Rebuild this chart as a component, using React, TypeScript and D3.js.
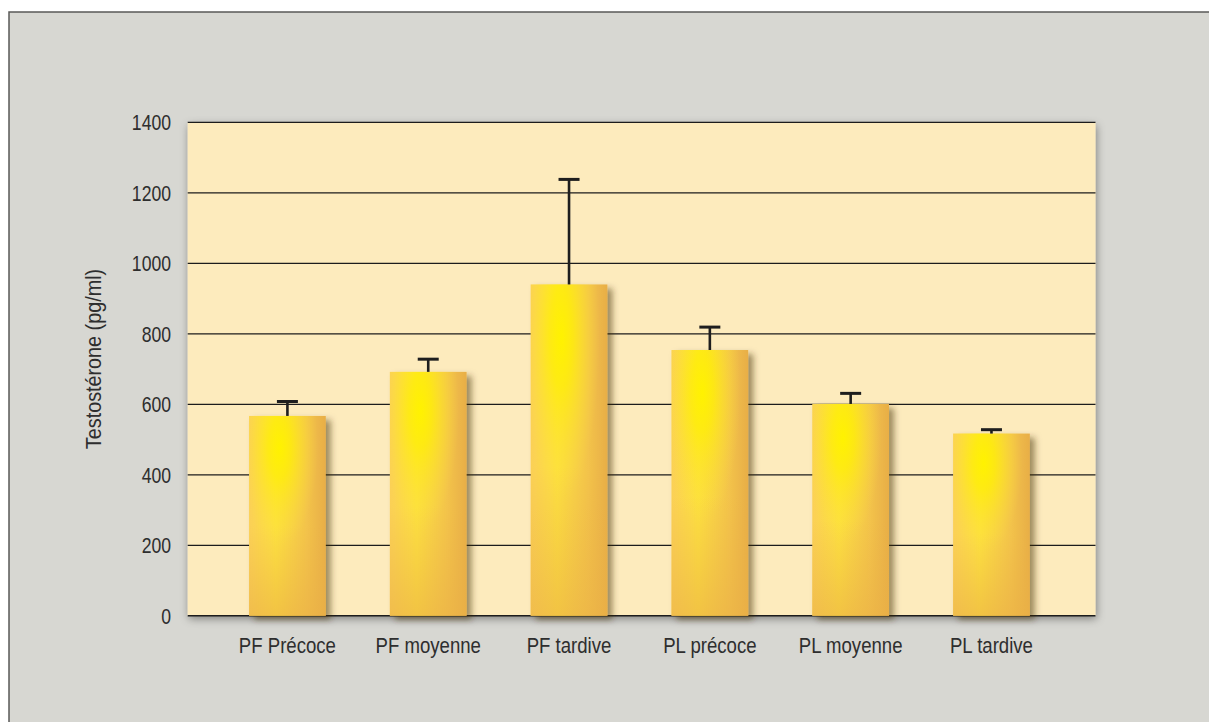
import React from "react";
import * as d3 from "d3";

const categories = ["PF Précoce", "PF moyenne", "PF tardive", "PL précoce", "PL moyenne", "PL tardive"];
const means = [567, 692, 940, 754, 601, 517];
const upper = [608, 728, 1238, 819, 631, 528];
const yTicks = [0, 200, 400, 600, 800, 1000, 1200, 1400];
const yLabel = "Testostérone (pg/ml)";

const W = 1209;
const H = 722;
const plot = { left: 187.7, right: 1095.5, top: 122.3, bottom: 615.8 };
const FONT = "'Liberation Sans', Arial, sans-serif";

export default function App() {
  const x = d3
    .scaleBand<string>()
    .domain(categories)
    .range([plot.left, plot.right])
    .paddingInner(0.455)
    .paddingOuter(0.451)
    .align(0.483);
  const y = d3.scaleLinear().domain([0, 1400]).range([plot.bottom, plot.top]);
  const bw = x.bandwidth();

  return (
    <svg
      width={W}
      height={H}
      style={{ position: "absolute", left: 0, top: 0, display: "block" }}
      fontFamily={FONT}
    >
      <defs>
        <filter id="plotShadow" x="-10%" y="-10%" width="120%" height="120%">
          <feDropShadow dx="1" dy="3" stdDeviation="4.5" floodColor="#000" floodOpacity="0.4" />
        </filter>
        <filter id="barShadow" x="-30%" y="-20%" width="160%" height="140%">
          <feDropShadow dx="5" dy="4" stdDeviation="3" floodColor="#3a2a00" floodOpacity="0.5" />
        </filter>
        <linearGradient id="barBase" x1="0" y1="0" x2="1" y2="0">
          <stop offset="0" stopColor="#fbd056" />
          <stop offset="0.35" stopColor="#fde040" />
          <stop offset="0.75" stopColor="#f3c34b" />
          <stop offset="1" stopColor="#e8ae46" />
        </linearGradient>
        <radialGradient id="barSpot" cx="0.4" cy="0.16" r="0.5" fx="0.4" fy="0.16">
          <stop offset="0" stopColor="#fff200" stopOpacity="1" />
          <stop offset="0.3" stopColor="#fff000" stopOpacity="0.7" />
          <stop offset="1" stopColor="#fde23e" stopOpacity="0" />
        </radialGradient>
        <linearGradient id="barBottom" x1="0" y1="0" x2="0" y2="1">
          <stop offset="0.55" stopColor="#eab046" stopOpacity="0" />
          <stop offset="1" stopColor="#eab046" stopOpacity="0.6" />
        </linearGradient>
      </defs>

      {/* frame */}
      <rect x={9} y={12} width={W + 10} height={H + 10} fill="#d7d7d2" stroke="#5a5a58" strokeWidth={1.5} />

      {/* plot area */}
      <rect
        x={plot.left}
        y={plot.top}
        width={plot.right - plot.left}
        height={plot.bottom - plot.top}
        fill="#fdebbd"
        filter="url(#plotShadow)"
      />

      {/* gridlines */}
      {yTicks.map((t) => (
        <line
          key={t}
          x1={plot.left}
          x2={plot.right}
          y1={y(t)}
          y2={y(t)}
          stroke="#1c1c1c"
          strokeWidth={t === 0 ? 1.6 : 1.2}
        />
      ))}

      {/* bars */}
      {categories.map((c, i) => {
        const bx = x(c)!;
        const by = y(means[i]);
        const bh = plot.bottom - by;
        return (
          <g key={c}>
            <g filter="url(#barShadow)">
              <rect x={bx} y={by} width={bw} height={bh} fill="url(#barBase)" />
            </g>
            <rect x={bx} y={by} width={bw} height={bh} fill="url(#barSpot)" />
            <rect x={bx} y={by} width={bw} height={bh} fill="url(#barBottom)" />
          </g>
        );
      })}

      {/* error bars */}
      {categories.map((c, i) => {
        const cx = x(c)! + bw / 2;
        const yt = y(upper[i]);
        const yb = y(means[i]);
        return (
          <g key={c + "-err"} stroke="#1e1e1e">
            <line x1={cx} x2={cx} y1={yb} y2={yt} strokeWidth={2.6} />
            <line x1={cx - 10.5} x2={cx + 10.5} y1={yt} y2={yt} strokeWidth={3} />
          </g>
        );
      })}

      {/* y tick labels */}
      {yTicks.map((t) => (
        <text
          key={"yl" + t}
          transform={`translate(171, ${y(t)}) scale(0.8, 1)`}
          textAnchor="end"
          dominantBaseline="central"
          fontSize={22}
          fill="#2e2e2e"
        >
          {t}
        </text>
      ))}

      {/* x labels */}
      {categories.map((c) => (
        <text
          key={"xl" + c}
          transform={`translate(${x(c)! + bw / 2}, 653) scale(0.845, 1)`}
          textAnchor="middle"
          fontSize={22}
          fill="#2e2e2e"
        >
          {c}
        </text>
      ))}

      {/* y axis label */}
      <text
        transform={`translate(101, 359) rotate(-90) scale(0.9, 1)`}
        textAnchor="middle"
        fontSize={22}
        fill="#2e2e2e"
      >
        {yLabel}
      </text>
    </svg>
  );
}
